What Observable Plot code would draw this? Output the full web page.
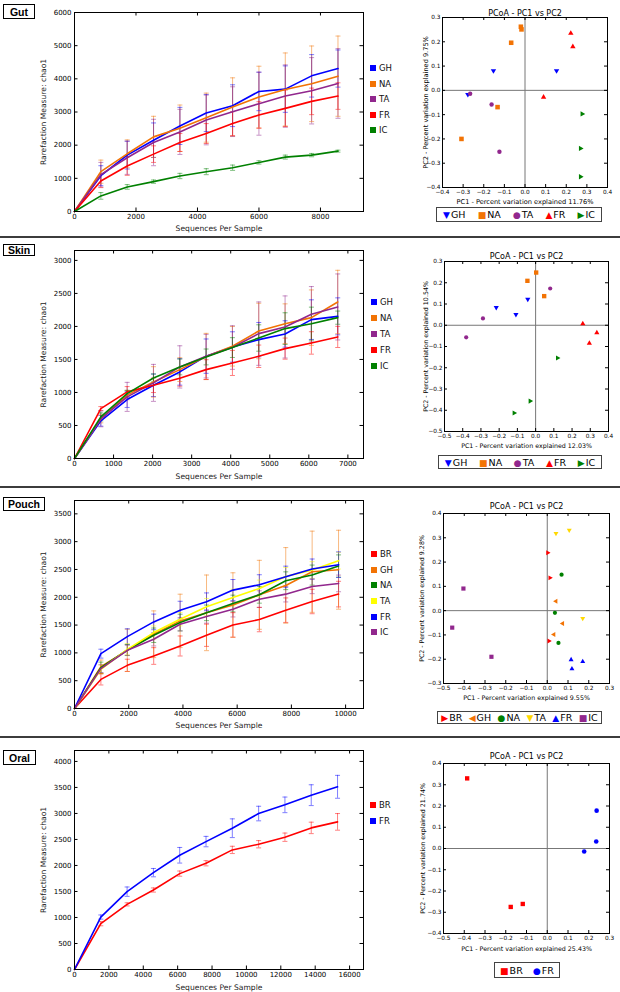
<!DOCTYPE html>
<html>
<head>
<meta charset="utf-8">
<script src="https://cdn.jsdelivr.net/npm/d3@7"></script>
<script src="https://cdn.jsdelivr.net/npm/@observablehq/plot@0.6"></script>
<style>
  html,body{margin:0;padding:0;background:#fff;}
  body{position:relative;width:620px;height:992px;overflow:hidden;font-family:"DejaVu Sans",sans-serif;color:#000;}
  .sep{position:absolute;left:0;width:620px;height:2px;background:#3c3c3c;}
  .tag{position:absolute;box-sizing:border-box;border:1px solid #000;font:bold 10.5px "Liberation Sans",Arial,sans-serif;display:flex;align-items:center;justify-content:center;background:#fff;}
  .ll{position:absolute;font-size:8.5px;line-height:10px;white-space:nowrap;color:#111;}
  .ll i{display:inline-block;width:6px;height:6px;margin-right:3px;vertical-align:0px;}
  .pl{position:absolute;box-sizing:border-box;border:1px solid #444;display:flex;justify-content:space-around;align-items:center;font-size:9.5px;background:#fff;white-space:nowrap;}
  .pl span b{font-weight:normal;font-size:9px;margin-right:1px;}
  svg{overflow:visible;}
</style>
</head>
<body>
<script>
// ---------------- DATA ----------------
// Gut rarefaction
const gutX = [0, 857, 1714, 2571, 3428, 4285, 5142, 5999, 6856, 7713, 8570];
const gutNames = ["GH", "NA", "TA", "FR", "IC"];
const gutColors = ["#0000ff", "#f27304", "#91278d", "#ff0000", "#008000"];
const gutMeans = [
  [0, 1080, 1700, 2150, 2580, 2970, 3190, 3620, 3690, 4090, 4310],
  [0, 1200, 1740, 2250, 2510, 2830, 3150, 3450, 3680, 3850, 4080],
  [0, 1110, 1620, 2080, 2400, 2760, 3010, 3250, 3480, 3640, 3860],
  [0, 920, 1370, 1730, 2080, 2350, 2650, 2910, 3110, 3320, 3480],
  [0, 470, 740, 900, 1070, 1200, 1320, 1480, 1640, 1700, 1820]
];
const gutErrs = [
  [0, 300, 420, 520, 560, 560, 630, 580, 700, 640, 560],
  [0, 350, 420, 620, 700, 740, 880, 930, 1100, 1140, 1210],
  [0, 370, 500, 700, 680, 750, 750, 950, 940, 1000, 1050],
  [0, 200, 280, 250, 270, 300, 360, 400, 550, 400, 400],
  [0, 100, 70, 50, 80, 90, 80, 50, 60, 50, 30]
];
const gutXTicks = [0, 2000, 4000, 6000, 8000];
const gutYTicks = [0, 1000, 2000, 3000, 4000, 5000, 6000];

// Skin rarefaction
const skinX = [0, 674, 1348, 2022, 2696, 3370, 4044, 4718, 5392, 6066, 6740];
const skinNames = ["GH", "NA", "TA", "FR", "IC"];
const skinColors = ["#0000ff", "#f27304", "#91278d", "#ff0000", "#008000"];
const skinMeans = [
  [0, 570, 893, 1109, 1311, 1550, 1689, 1800, 1886, 2103, 2153],
  [0, 600, 960, 1160, 1346, 1545, 1700, 1931, 2042, 2133, 2370],
  [0, 600, 933, 1145, 1387, 1550, 1680, 1891, 1992, 2184, 2295],
  [0, 756, 1009, 1109, 1215, 1346, 1447, 1548, 1664, 1750, 1841],
  [0, 630, 983, 1220, 1387, 1538, 1680, 1825, 1967, 2042, 2133]
];
const skinErrs = [
  [0, 80, 120, 170, 200, 260, 230, 260, 200, 300, 280],
  [0, 60, 70, 230, 180, 350, 300, 420, 300, 420, 480],
  [0, 120, 220, 280, 320, 330, 330, 480, 470, 420, 500],
  [0, 30, 80, 110, 120, 150, 190, 170, 160, 170, 160],
  [0, 60, 50, 60, 120, 120, 150, 200, 240, 250, 100]
];
const skinXTicks = [0, 1000, 2000, 3000, 4000, 5000, 6000, 7000];
const skinYTicks = [0, 500, 1000, 1500, 2000, 2500, 3000];

// Pouch rarefaction
const pouchX = [0, 974, 1948, 2922, 3896, 4870, 5844, 6818, 7792, 8766, 9740];
const pouchNames = ["BR", "GH", "NA", "TA", "FR", "IC"];
const pouchColors = ["#ff0000", "#f27304", "#008000", "#ffff00", "#0000ff", "#91278d"];
const pouchMeans = [
  [0, 523, 776, 944, 1124, 1317, 1503, 1600, 1768, 1924, 2057],
  [0, 752, 1046, 1335, 1575, 1720, 1860, 2044, 2213, 2459, 2495],
  [0, 734, 1052, 1317, 1545, 1720, 1888, 2044, 2297, 2399, 2562],
  [0, 704, 1064, 1365, 1606, 1828, 1996, 2159, 2375, 2490, 2658],
  [0, 986, 1293, 1557, 1768, 1918, 2129, 2225, 2369, 2508, 2586],
  [0, 716, 1046, 1245, 1515, 1654, 1786, 1966, 2056, 2195, 2249]
];
const pouchErrs = [
  [0, 100, 110, 150, 180, 200, 220, 220, 220, 220, 230],
  [0, 120, 380, 420, 480, 680, 580, 620, 680, 730, 710],
  [0, 100, 100, 130, 150, 140, 150, 150, 160, 180, 200],
  [0, 80, 100, 120, 120, 150, 150, 150, 160, 150, 150],
  [0, 80, 140, 140, 160, 160, 190, 180, 190, 180, 230],
  [0, 70, 90, 120, 120, 120, 140, 150, 140, 130, 150]
];
const pouchXTicks = [0, 2000, 4000, 6000, 8000, 10000];
const pouchYTicks = [0, 500, 1000, 1500, 2000, 2500, 3000, 3500];

// Oral rarefaction
const oralX = [0, 1530, 3060, 4590, 6120, 7650, 9180, 10710, 12240, 13770, 15300];
const oralNames = ["BR", "FR"];
const oralColors = ["#ff0000", "#0000ff"];
const oralMeans = [
  [0, 880, 1252, 1528, 1843, 2042, 2299, 2408, 2543, 2722, 2838],
  [0, 1008, 1496, 1862, 2196, 2459, 2716, 2998, 3165, 3351, 3512]
];
const oralErrs = [
  [0, 40, 30, 40, 50, 50, 70, 70, 80, 110, 160],
  [0, 40, 90, 80, 150, 100, 180, 140, 150, 200, 220]
];
const oralXTicks = [0, 2000, 4000, 6000, 8000, 10000, 12000, 14000, 16000];
const oralYTicks = [0, 500, 1000, 1500, 2000, 2500, 3000, 3500, 4000];

// PCoA points
const gutPcGroup = ["GH","GH","GH","NA","NA","NA","NA","NA","TA","TA","TA","FR","FR","FR","IC","IC","IC"];
const gutPc1 = [-0.153, -0.277, 0.153, -0.020, -0.017, -0.067, -0.133, -0.308, -0.266, -0.162, -0.124, 0.222, 0.232, 0.090, 0.277, 0.269, 0.269];
const gutPc2 = [0.081, -0.017, 0.081, 0.262, 0.251, 0.196, -0.069, -0.200, -0.014, -0.058, -0.253, 0.235, 0.180, -0.028, -0.097, -0.239, -0.356];
const gutPcXTicks = [-0.4, -0.3, -0.2, -0.1, 0, 0.1, 0.2, 0.3, 0.4];
const gutPcYTicks = [-0.4, -0.3, -0.2, -0.1, 0, 0.1, 0.2, 0.3];

const skinPcGroup = ["GH","GH","GH","NA","NA","NA","TA","TA","TA","FR","FR","FR","IC","IC","IC"];
const skinPc1 = [-0.043, -0.216, -0.108, -0.045, 0.003, 0.047, 0.080, -0.289, -0.381, 0.259, 0.336, 0.295, 0.120, -0.030, -0.118];
const skinPc2 = [0.122, 0.084, 0.051, 0.209, 0.248, 0.137, 0.173, 0.032, -0.057, 0.007, -0.035, -0.085, -0.154, -0.357, -0.413];
const skinPcXTicks = [-0.5, -0.4, -0.3, -0.2, -0.1, 0, 0.1, 0.2, 0.3, 0.4];
const skinPcYTicks = [-0.5, -0.4, -0.3, -0.2, -0.1, 0, 0.1, 0.2, 0.3];

const pouchPcGroup = ["BR","BR","BR","GH","GH","GH","NA","NA","NA","TA","TA","TA","FR","FR","FR","IC","IC","IC"];
const pouchPc1 = [0.002, 0.013, 0.008, 0.042, 0.074, 0.032, 0.069, 0.037, 0.054, 0.042, 0.106, 0.171, 0.115, 0.119, 0.171, -0.404, -0.458, -0.269];
const pouchPc2 = [0.238, 0.135, -0.125, 0.039, -0.053, -0.098, 0.148, -0.009, -0.133, 0.318, 0.331, -0.032, -0.202, -0.240, -0.210, 0.091, -0.070, -0.190];
const pouchPcXTicks = [-0.5, -0.4, -0.3, -0.2, -0.1, 0, 0.1, 0.2, 0.3];
const pouchPcYTicks = [-0.3, -0.2, -0.1, 0, 0.1, 0.2, 0.3, 0.4];

const oralPcGroup = ["BR","BR","BR","FR","FR","FR"];
const oralPc1 = [-0.386, -0.176, -0.118, 0.238, 0.236, 0.178];
const oralPc2 = [0.330, -0.275, -0.261, 0.178, 0.033, -0.014];
const oralPcXTicks = [-0.5, -0.4, -0.3, -0.2, -0.1, 0, 0.1, 0.2, 0.3];
const oralPcYTicks = [-0.4, -0.3, -0.2, -0.1, 0, 0.1, 0.2, 0.3, 0.4];

// ---------------- HELPERS ----------------
const fmtInt = d => String(d);
const fmt1 = d3.format(".1f");

const capSym = {draw(ctx, size) { const w = Math.sqrt(size / Math.PI); ctx.moveTo(-w, 0); ctx.lineTo(w, 0); }};
function tri(deg) {
  const a0 = deg * Math.PI / 180;
  return {draw(ctx, size) {
    const r = Math.sqrt(size / Math.PI) * 1.3;
    for (let k = 0; k < 3; k++) {
      const a = a0 + k * 2 * Math.PI / 3;
      const px = r * Math.cos(a), py = r * Math.sin(a);
      if (k === 0) ctx.moveTo(px, py); else ctx.lineTo(px, py);
    }
    ctx.closePath();
  }};
}
const SYM = {
  down: tri(90), up: tri(-90), right: tri(0), left: tri(180),
  square: {draw(ctx, size) { const s = Math.sqrt(size / Math.PI) * 0.95; ctx.rect(-s, -s, 2 * s, 2 * s); }},
  circle: {draw(ctx, size) { const r = Math.sqrt(size / Math.PI); ctx.moveTo(r, 0); ctx.arc(0, 0, r, 0, 2 * Math.PI); }}
};
const GLYPH = {down: "▼", up: "▲", right: "▶", left: "◀", square: "■", circle: "●"};

function place(el, left, top) {
  el.style.position = "absolute";
  el.style.left = left + "px";
  el.style.top = top + "px";
  document.body.appendChild(el);
}
function div(cls, css, html) {
  const d = document.createElement("div");
  d.className = cls;
  Object.assign(d.style, css);
  d.innerHTML = html || "";
  document.body.appendChild(d);
  return d;
}
const LBL = {textAnchor: "middle", lineAnchor: "middle", text: d => d};

function lineChart(o) {
  const rows = [];
  o.names.forEach((n, i) => o.xs.forEach((x, j) => rows.push({s: n, x, y: o.means[i][j], e: o.errs[i][j]})));
  const eb = rows.filter(d => d.e > 0);
  const fh = o.height - o.mt - o.mb, fw = o.width - o.ml - o.mr;
  const svg = Plot.plot({
    width: o.width, height: o.height,
    marginTop: o.mt, marginBottom: o.mb, marginLeft: o.ml, marginRight: o.mr,
    x: {domain: o.xDomain}, y: {domain: o.yDomain},
    color: {domain: o.names, range: o.colors},
    style: {fontFamily: "DejaVu Sans", fontSize: "7px", background: "transparent", overflow: "visible"},
    marks: [
      Plot.ruleX(eb, {x: "x", y1: d => d.y - d.e, y2: d => d.y + d.e, stroke: "s", strokeOpacity: 0.5, strokeWidth: 1}),
      Plot.dot(eb, {x: "x", y: d => d.y - d.e, symbol: capSym, r: 2.5, stroke: "s", fill: "none", strokeOpacity: 0.5, strokeWidth: 1}),
      Plot.dot(eb, {x: "x", y: d => d.y + d.e, symbol: capSym, r: 2.5, stroke: "s", fill: "none", strokeOpacity: 0.5, strokeWidth: 1}),
      Plot.line(rows, {x: "x", y: "y", z: "s", stroke: "s", strokeWidth: 1.6}),
      Plot.frame({stroke: "#000", strokeWidth: 1}),
      Plot.ruleX(o.xTicks, {x: d => d, insetTop: fh - 3.5, stroke: "#000"}),
      Plot.ruleX(o.xTicks, {x: d => d, insetBottom: fh - 3.5, stroke: "#000"}),
      Plot.ruleY(o.yTicks, {y: d => d, insetRight: fw - 3.5, stroke: "#000"}),
      Plot.ruleY(o.yTicks, {y: d => d, insetLeft: fw - 3.5, stroke: "#000"}),
      Plot.axisX({ticks: o.xTicks, tickSize: 0, tickPadding: 2.5, tickFormat: fmtInt, label: null}),
      Plot.axisY({ticks: o.yTicks, tickSize: 0, tickPadding: 3, tickFormat: fmtInt, label: null}),
      Plot.text(["Sequences Per Sample"], {...LBL, frameAnchor: "bottom", dy: o.xlDy, fontSize: 7.6, fill: "#222"}),
      Plot.text(["Rarefaction Measure: chao1"], {...LBL, frameAnchor: "left", rotate: -90, dx: -31, fontSize: 7.6, fill: "#222"})
    ]
  });
  place(svg, o.left, o.top);
  o.names.forEach((n, i) => {
    div("ll", {left: o.legX + "px", top: (o.legY + i * o.legStep - 5) + "px"},
      `<i style="background:${o.colors[i]}"></i>${n}`);
  });
}

function pcoa(o) {
  const pts = o.groups.map((g, i) => ({g, x: o.pc1[i], y: o.pc2[i]}));
  const fh = o.height - o.mt - o.mb, fw = o.width - o.ml - o.mr;
  const dotMarks = o.legend.map(L => Plot.dot(pts.filter(p => p.g === L.name),
    {x: "x", y: "y", symbol: SYM[L.sym], r: L.r, fill: L.color, stroke: "none"}));
  const svg = Plot.plot({
    width: o.width, height: o.height,
    marginTop: o.mt, marginBottom: o.mb, marginLeft: o.ml, marginRight: o.mr,
    x: {domain: o.xDomain}, y: {domain: o.yDomain},
    style: {fontFamily: "DejaVu Sans", fontSize: "5.8px", background: "transparent", overflow: "visible"},
    marks: [
      Plot.ruleX([0], {x: d => d, stroke: "#777", strokeWidth: 1}),
      Plot.ruleY([0], {y: d => d, stroke: "#777", strokeWidth: 1}),
      ...dotMarks,
      Plot.frame({stroke: "#000", strokeWidth: 1}),
      Plot.ruleX(o.xTicks, {x: d => d, insetTop: fh - 3, stroke: "#000"}),
      Plot.ruleX(o.xTicks, {x: d => d, insetBottom: fh - 3, stroke: "#000"}),
      Plot.ruleY(o.yTicks, {y: d => d, insetRight: fw - 3, stroke: "#000"}),
      Plot.ruleY(o.yTicks, {y: d => d, insetLeft: fw - 3, stroke: "#000"}),
      Plot.axisX({ticks: o.xTicks, tickSize: 0, tickPadding: 2, tickFormat: fmt1, label: null}),
      Plot.axisY({ticks: o.yTicks, tickSize: 0, tickPadding: 2, tickFormat: fmt1, label: null}),
      Plot.text(["PCoA - PC1 vs PC2"], {...LBL, frameAnchor: "top", dy: o.titleDy, fontSize: 8}),
      Plot.text([o.xLabel], {...LBL, frameAnchor: "bottom", dy: o.xlDy, fontSize: o.labSize}),
      Plot.text([o.yLabel], {...LBL, frameAnchor: "left", rotate: -90, dx: o.ylDx, fontSize: o.labSize})
    ]
  });
  place(svg, o.left, o.top);
  div("pl", {left: o.box[0] + "px", top: o.box[1] + "px", width: o.box[2] + "px", height: o.box[3] + "px"},
    o.legend.map(L => `<span><b style="color:${L.color}">${GLYPH[L.sym]}</b>${L.name}</span>`).join(""));
}

// ---------------- LAYOUT ----------------
[236, 486, 736].forEach(y => div("sep", {top: y + "px"}));
div("tag", {left: "3px", top: "4px", width: "32px", height: "15px"}, "Gut");
div("tag", {left: "3px", top: "244px", width: "32px", height: "12px"}, "Skin");
div("tag", {left: "3px", top: "497px", width: "42px", height: "14px"}, "Pouch");
div("tag", {left: "3px", top: "750px", width: "33px", height: "15px"}, "Oral");

lineChart({left: 0, top: 0, width: 372, height: 236, mt: 12, mb: 25, ml: 74, mr: 9,
  xDomain: [0, 9400], yDomain: [0, 6000], xTicks: gutXTicks, yTicks: gutYTicks,
  xs: gutX, names: gutNames, colors: gutColors, means: gutMeans, errs: gutErrs, xlDy: 17,
  legX: 370, legY: 68, legStep: 15.6});
lineChart({left: 0, top: 240, width: 372, height: 243, mt: 10, mb: 25, ml: 74, mr: 9,
  xDomain: [0, 7400], yDomain: [0, 3150], xTicks: skinXTicks, yTicks: skinYTicks,
  xs: skinX, names: skinNames, colors: skinColors, means: skinMeans, errs: skinErrs, xlDy: 18,
  legX: 371, legY: 302, legStep: 16});
lineChart({left: 0, top: 490, width: 372, height: 243, mt: 10, mb: 25, ml: 74, mr: 9,
  xDomain: [0, 10660], yDomain: [0, 3740], xTicks: pouchXTicks, yTicks: pouchYTicks,
  xs: pouchX, names: pouchNames, colors: pouchColors, means: pouchMeans, errs: pouchErrs, xlDy: 17,
  legX: 371, legY: 554, legStep: 15.66});
lineChart({left: 0, top: 740, width: 372, height: 254, mt: 10, mb: 25, ml: 74, mr: 9,
  xDomain: [0, 16810], yDomain: [0, 4210], xTicks: oralXTicks, yTicks: oralYTicks,
  xs: oralX, names: oralNames, colors: oralColors, means: oralMeans, errs: oralErrs, xlDy: 18,
  legX: 370, legY: 805, legStep: 15.7});

pcoa({left: 400, top: 0, width: 216, height: 206, mt: 17, mb: 19, ml: 42, mr: 9,
  xDomain: [-0.4, 0.4], yDomain: [-0.4, 0.3], xTicks: gutPcXTicks, yTicks: gutPcYTicks,
  groups: gutPcGroup, pc1: gutPc1, pc2: gutPc2, titleDy: -4, xlDy: 14, ylDx: -17, labSize: 6.6,
  xLabel: "PC1 - Percent variation explained 11.76%", yLabel: "PC2 - Percent variation explained 9.75%",
  legend: [
    {name: "GH", color: "#0000ff", sym: "down", r: 2.4},
    {name: "NA", color: "#f27304", sym: "square", r: 2.4},
    {name: "TA", color: "#91278d", sym: "circle", r: 2.2},
    {name: "FR", color: "#ff0000", sym: "up", r: 2.4},
    {name: "IC", color: "#008000", sym: "right", r: 2.4}
  ], box: [436, 207, 166, 15]});
pcoa({left: 400, top: 240, width: 216, height: 211, mt: 21, mb: 20, ml: 44, mr: 8,
  xDomain: [-0.5, 0.4], yDomain: [-0.5, 0.3], xTicks: skinPcXTicks, yTicks: skinPcYTicks,
  groups: skinPcGroup, pc1: skinPc1, pc2: skinPc2, titleDy: -5, xlDy: 14, ylDx: -19, labSize: 6.3,
  xLabel: "PC1 - Percent variation explained 12.03%", yLabel: "PC2 - Percent variation explained 10.54%",
  legend: [
    {name: "GH", color: "#0000ff", sym: "down", r: 2.3},
    {name: "NA", color: "#f27304", sym: "square", r: 2.3},
    {name: "TA", color: "#91278d", sym: "circle", r: 2.1},
    {name: "FR", color: "#ff0000", sym: "up", r: 2.3},
    {name: "IC", color: "#008000", sym: "right", r: 2.3}
  ], box: [438, 455, 164, 14]});
pcoa({left: 400, top: 490, width: 216, height: 213, mt: 23, mb: 20, ml: 43, mr: 7,
  xDomain: [-0.5, 0.3], yDomain: [-0.3, 0.4], xTicks: pouchPcXTicks, yTicks: pouchPcYTicks,
  groups: pouchPcGroup, pc1: pouchPc1, pc2: pouchPc2, titleDy: -7, xlDy: 14, ylDx: -22, labSize: 6.3,
  xLabel: "PC1 - Percent variation explained 9.55%", yLabel: "PC2 - Percent variation explained 9.28%",
  legend: [
    {name: "BR", color: "#ff0000", sym: "right", r: 2.2},
    {name: "GH", color: "#f27304", sym: "left", r: 2.2},
    {name: "NA", color: "#008000", sym: "circle", r: 2.1},
    {name: "TA", color: "#ffd800", sym: "down", r: 2.2},
    {name: "FR", color: "#0000ff", sym: "up", r: 2.2},
    {name: "IC", color: "#91278d", sym: "square", r: 2.2}
  ], box: [437, 711, 165, 13]});
pcoa({left: 400, top: 740, width: 216, height: 213, mt: 23, mb: 20, ml: 43, mr: 7,
  xDomain: [-0.5, 0.3], yDomain: [-0.4, 0.4], xTicks: oralPcXTicks, yTicks: oralPcYTicks,
  groups: oralPcGroup, pc1: oralPc1, pc2: oralPc2, titleDy: -7, xlDy: 15, ylDx: -21, labSize: 6.3,
  xLabel: "PC1 - Percent variation explained 25.43%", yLabel: "PC2 - Percent variation explained 21.74%",
  legend: [
    {name: "BR", color: "#ff0000", sym: "square", r: 2.3},
    {name: "FR", color: "#0000ff", sym: "circle", r: 2.3}
  ], box: [494, 962, 66, 16]});
</script>
</body>
</html>
